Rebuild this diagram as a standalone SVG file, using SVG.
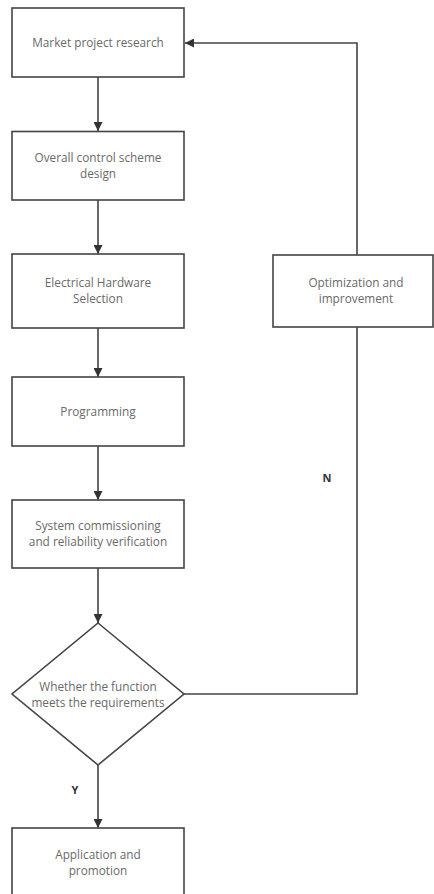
<svg xmlns="http://www.w3.org/2000/svg" width="434" height="894" viewBox="0 0 434 894">
<defs>
<style>
.box{fill:#fff;stroke:#444;stroke-width:1.6}
.t{font-family:"Open Sans","DejaVu Sans",sans-serif;font-size:11.8px;fill:#6a6a6a;text-anchor:middle}
.lbl{font-family:"Open Sans","DejaVu Sans",sans-serif;font-size:11px;font-weight:bold;fill:#333;text-anchor:middle}
.c{fill:none;stroke:#444;stroke-width:1.6}
</style>
<marker id="ah" viewBox="0 0 10 10" refX="10" refY="5" markerWidth="9" markerHeight="9" markerUnits="userSpaceOnUse" orient="auto">
<path d="M0,0 L10,5 L0,10 z" fill="#333"/>
</marker>
</defs>
<rect width="434" height="894" fill="#fff"/>
<g id="connectors">
<path class="c" d="M98,77 V131" marker-end="url(#ah)"/>
<path class="c" d="M98,200 V254" marker-end="url(#ah)"/>
<path class="c" d="M98,328 V377" marker-end="url(#ah)"/>
<path class="c" d="M98,446 V500" marker-end="url(#ah)"/>
<path class="c" d="M98,568 V623" marker-end="url(#ah)"/>
<path class="c" d="M98,765 V828" marker-end="url(#ah)"/>
<path class="c" d="M184,694 H357 V327"/>
<path class="c" d="M357,255 V43 H185" marker-end="url(#ah)"/>
<text class="lbl" x="327" y="482">N</text>
<text class="lbl" x="75" y="794">Y</text>
</g>
<g id="n1"><rect class="box" x="12" y="8" width="172" height="69"/><text class="t" x="98" y="47">Market project research</text></g>
<g id="n2"><rect class="box" x="12" y="131.5" width="172" height="68.5"/><text class="t" x="98" y="162">Overall control scheme</text><text class="t" x="98" y="178">design</text></g>
<g id="n3"><rect class="box" x="12" y="254" width="172" height="74"/><text class="t" x="98" y="287">Electrical Hardware</text><text class="t" x="98" y="303">Selection</text></g>
<g id="n4"><rect class="box" x="12" y="377" width="172" height="69"/><text class="t" x="98" y="416">Programming</text></g>
<g id="n5"><rect class="box" x="12" y="500" width="172" height="68"/><text class="t" x="98" y="530">System commissioning</text><text class="t" x="98" y="546">and reliability verification</text></g>
<g id="n6"><polygon class="box" points="98,623 184,694 98,765 12,694"/><text class="t" x="98" y="691">Whether the function</text><text class="t" x="98" y="707">meets the requirements</text></g>
<g id="n7"><rect class="box" x="12" y="828" width="172" height="80"/><text class="t" x="98" y="859">Application and</text><text class="t" x="98" y="875">promotion</text></g>
<g id="n8"><rect class="box" x="273" y="255" width="160" height="72"/><text class="t" x="356" y="287">Optimization and</text><text class="t" x="356" y="303">improvement</text></g>
</svg>
